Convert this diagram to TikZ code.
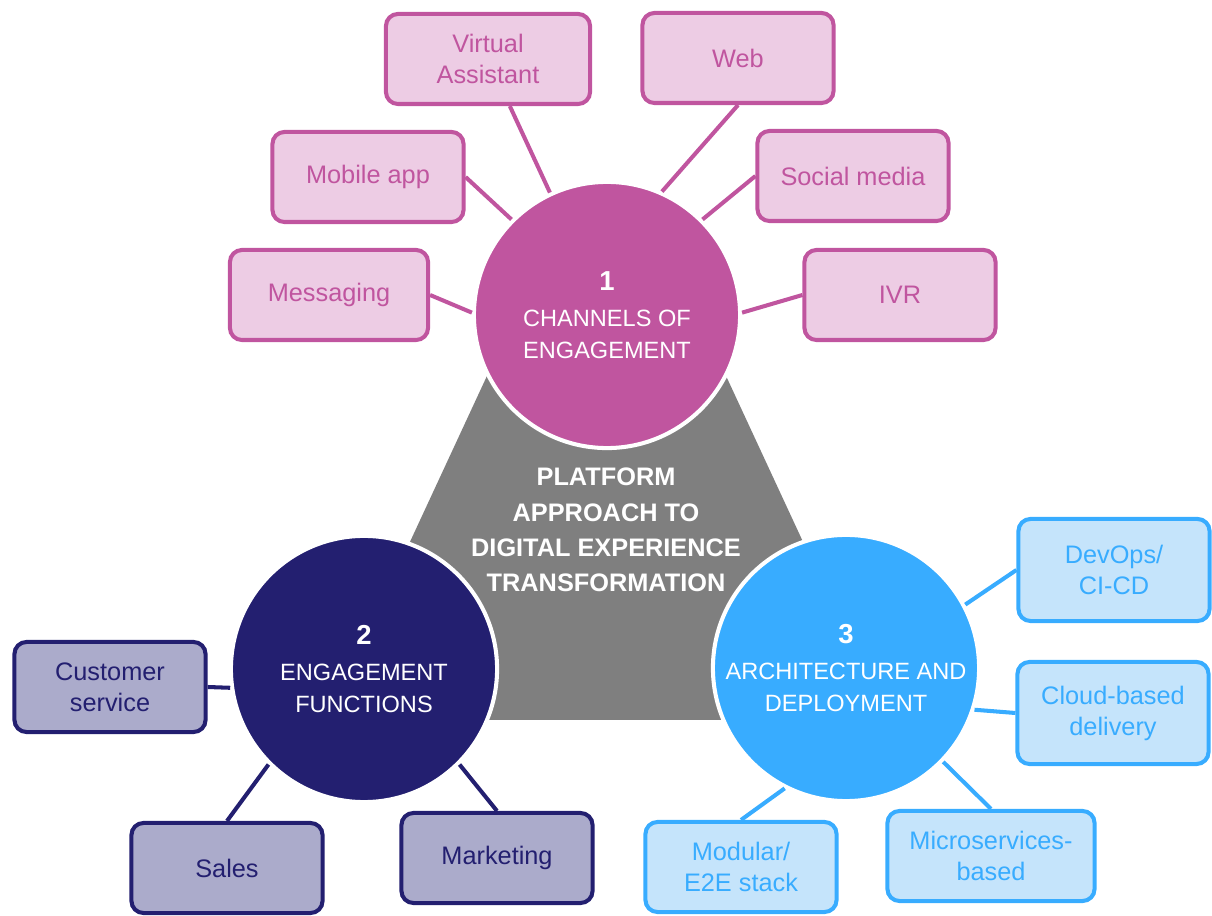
\documentclass[tikz,border=0pt]{standalone}
\usepackage{fontspec}
\setmainfont{Liberation Sans}

\definecolor{rosa}{HTML}{C0559F}
\definecolor{rosaclaro}{HTML}{EDCCE4}
\definecolor{marino}{HTML}{231F70}
\definecolor{marinoclaro}{HTML}{ABABCB}
\definecolor{azul}{HTML}{38ACFF}
\definecolor{azulclaro}{HTML}{C5E4FB}
\definecolor{gris}{HTML}{7F7F7F}

\tikzset{
  caja/.style={draw, rounded corners=0.12cm, line width=1.15pt,
    minimum width=1.91cm, minimum height=0.9cm, inner sep=1pt,
    align=center, font=\fontsize{7.2}{8.8}\selectfont},
  circulo/.style={circle, draw=white, line width=1.15pt, minimum size=2.66cm,
    inner sep=0pt, text=white, align=center, font=\fontsize{6.7}{9.1}\selectfont},
  enlace/.style={line width=1.15pt},
}

\begin{document}
\begin{tikzpicture}[x=0.01cm, y=-0.01cm]
    \useasboundingbox (0,0) rectangle (1212,916);

    % Forma central
    \fill[gris] (499,350) -- (714,350) -- (830,600) -- (830,720)
        -- (383,720) -- (383,600) -- cycle;
    \node[font=\fontsize{7.2}{10}\selectfont\bfseries, text=white, align=center]
        (plataforma) at (606,530) {PLATFORM\\APPROACH TO\\DIGITAL EXPERIENCE\\TRANSFORMATION};

    % Circulos
    \node[circulo, fill=rosa] (c1) at (607,315)
        {{\fontsize{7.8}{9.9}\selectfont\bfseries 1}\\[1pt]CHANNELS OF\\ENGAGEMENT};
    \node[circulo, fill=marino] (c2) at (364,669)
        {{\fontsize{7.8}{9.9}\selectfont\bfseries 2}\\[1pt]ENGAGEMENT\\FUNCTIONS};
    \node[circulo, fill=azul] (c3) at (846,668)
        {{\fontsize{7.8}{9.9}\selectfont\bfseries 3}\\[1pt]ARCHITECTURE AND\\DEPLOYMENT};

    % Canales
    \node[caja, rosa, fill=rosaclaro, minimum width=2.04cm] (va) at (488,59) {Virtual\\Assistant};
    \node[caja, rosa, fill=rosaclaro] (web) at (738,58) {Web};
    \node[caja, rosa, fill=rosaclaro] (mob) at (368,177) {Mobile app};
    \node[caja, rosa, fill=rosaclaro] (soc) at (853,176) {Social media};
    \node[caja, rosa, fill=rosaclaro, minimum width=1.98cm] (msg) at (329,295) {Messaging};
    \node[caja, rosa, fill=rosaclaro] (ivr) at (900,295) {IVR};

    \foreach \desde/\ang in {va/115, web.south/66, mob.east/135, soc.west/45, msg.east/179, ivr.west/1}
        \draw[enlace, rosa] (\desde) -- (c1.\ang);

    % Funciones
    \node[caja, marino, fill=marinoclaro] (cs) at (110,687) {Customer\\service};
    \node[caja, marino, fill=marinoclaro] (sal) at (227,868) {Sales};
    \node[caja, marino, fill=marinoclaro] (mkt) at (497,858) {Marketing};

    \foreach \desde/\ang in {cs.east/188, sal.north/225, mkt.north/315}
        \draw[enlace, marino] (\desde) -- (c2.\ang);

    % Arquitectura
    \node[caja, azul, fill=azulclaro, minimum height=1.02cm] (dev) at (1114,570) {DevOps/\\CI-CD};
    \node[caja, azul, fill=azulclaro, minimum height=1.02cm] (nube) at (1113,713) {Cloud-based\\delivery};
    \node[caja, azul, fill=azulclaro] (mod) at (741,867) {Modular/\\E2E stack};
    \node[caja, azul, fill=azulclaro, minimum width=2.07cm] (mic) at (991,856) {Microservices-\\based};

    \foreach \desde/\ang in {dev.west/28, nube.west/342, mod.north/243, mic.north/316}
        \draw[enlace, azul] (\desde) -- (c3.\ang);
\end{tikzpicture}
\end{document}
